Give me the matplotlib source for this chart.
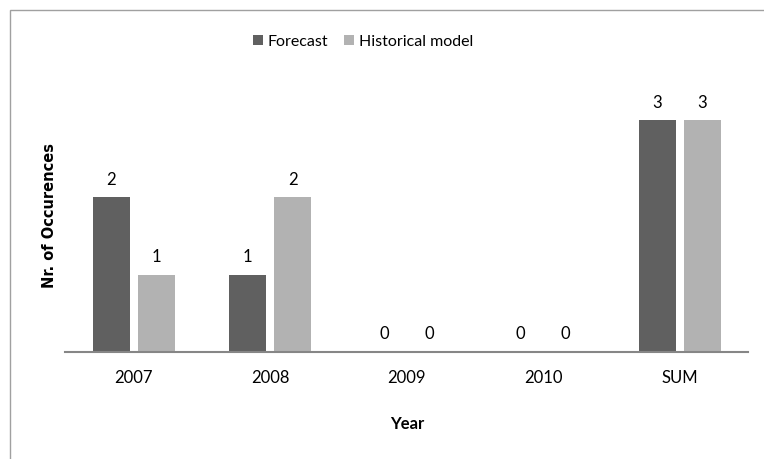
import numpy as np
import matplotlib.pyplot as plt
from matplotlib.patches import Rectangle

categories = ['2007', '2008', '2009', '2010', 'SUM']
forecast = [2, 1, 0, 0, 3]
historical = [1, 2, 0, 0, 3]

plt.rcParams['font.family'] = ['Lato', 'DejaVu Sans']

W, H = 764, 459
fig = plt.figure(figsize=(W / 100, H / 100), dpi=100)
# axes placed in pixel terms: x 65.5..748, y 81.5..351.7
ax = fig.add_axes([65.5 / W, 1 - 351.7 / H, (748 - 65.5) / W, (351.7 - 81.5) / H])

x = np.arange(len(categories))
bw = 37 / 136.5
off = 22.5 / 136.5
b1 = ax.bar(x - off, forecast, bw, color='#606060', label='Forecast')
b2 = ax.bar(x + off, historical, bw, color='#b2b2b2', label='Historical model')

for bars, vals in ((b1, forecast), (b2, historical)):
    for r, v in zip(bars, vals):
        ax.text(r.get_x() + r.get_width() / 2, v + 0.12, str(v),
                ha='center', va='bottom', fontsize=12, color='#000000')

ax.set_xlim(-0.5, 4.5)
ax.set_ylim(0, 3.5)
ax.set_xticks(x)
ax.set_xticklabels(categories, fontsize=12)
ax.tick_params(axis='x', length=0, pad=13)
ax.set_yticks([])
for s in ('top', 'right', 'left'):
    ax.spines[s].set_visible(False)
ax.spines['bottom'].set_color('#868686')
ax.spines['bottom'].set_linewidth(1.5)

ax.set_xlabel('Year', fontsize=12, fontweight='bold', labelpad=22)
fig.text(50 / W, 1 - 215 / H, 'Nr. of Occurences', rotation=90, ha='center',
         va='center', fontsize=10.5, fontweight='bold', family='DejaVu Sans')

fig.legend(handles=[b1, b2], loc='center', bbox_to_anchor=(363 / W, 1 - 42 / H),
           ncol=2, frameon=False, fontsize=11.5, handlelength=0.6, handleheight=0.6,
           handletextpad=0.3, columnspacing=1.0)

fig.patches.append(Rectangle((10 / W, -0.1), 1.2, 1 - 10 / H + 0.1,
                             transform=fig.transFigure, fill=False,
                             edgecolor='#a0a0a0', linewidth=1))

fig.savefig('out.png', dpi=100)
